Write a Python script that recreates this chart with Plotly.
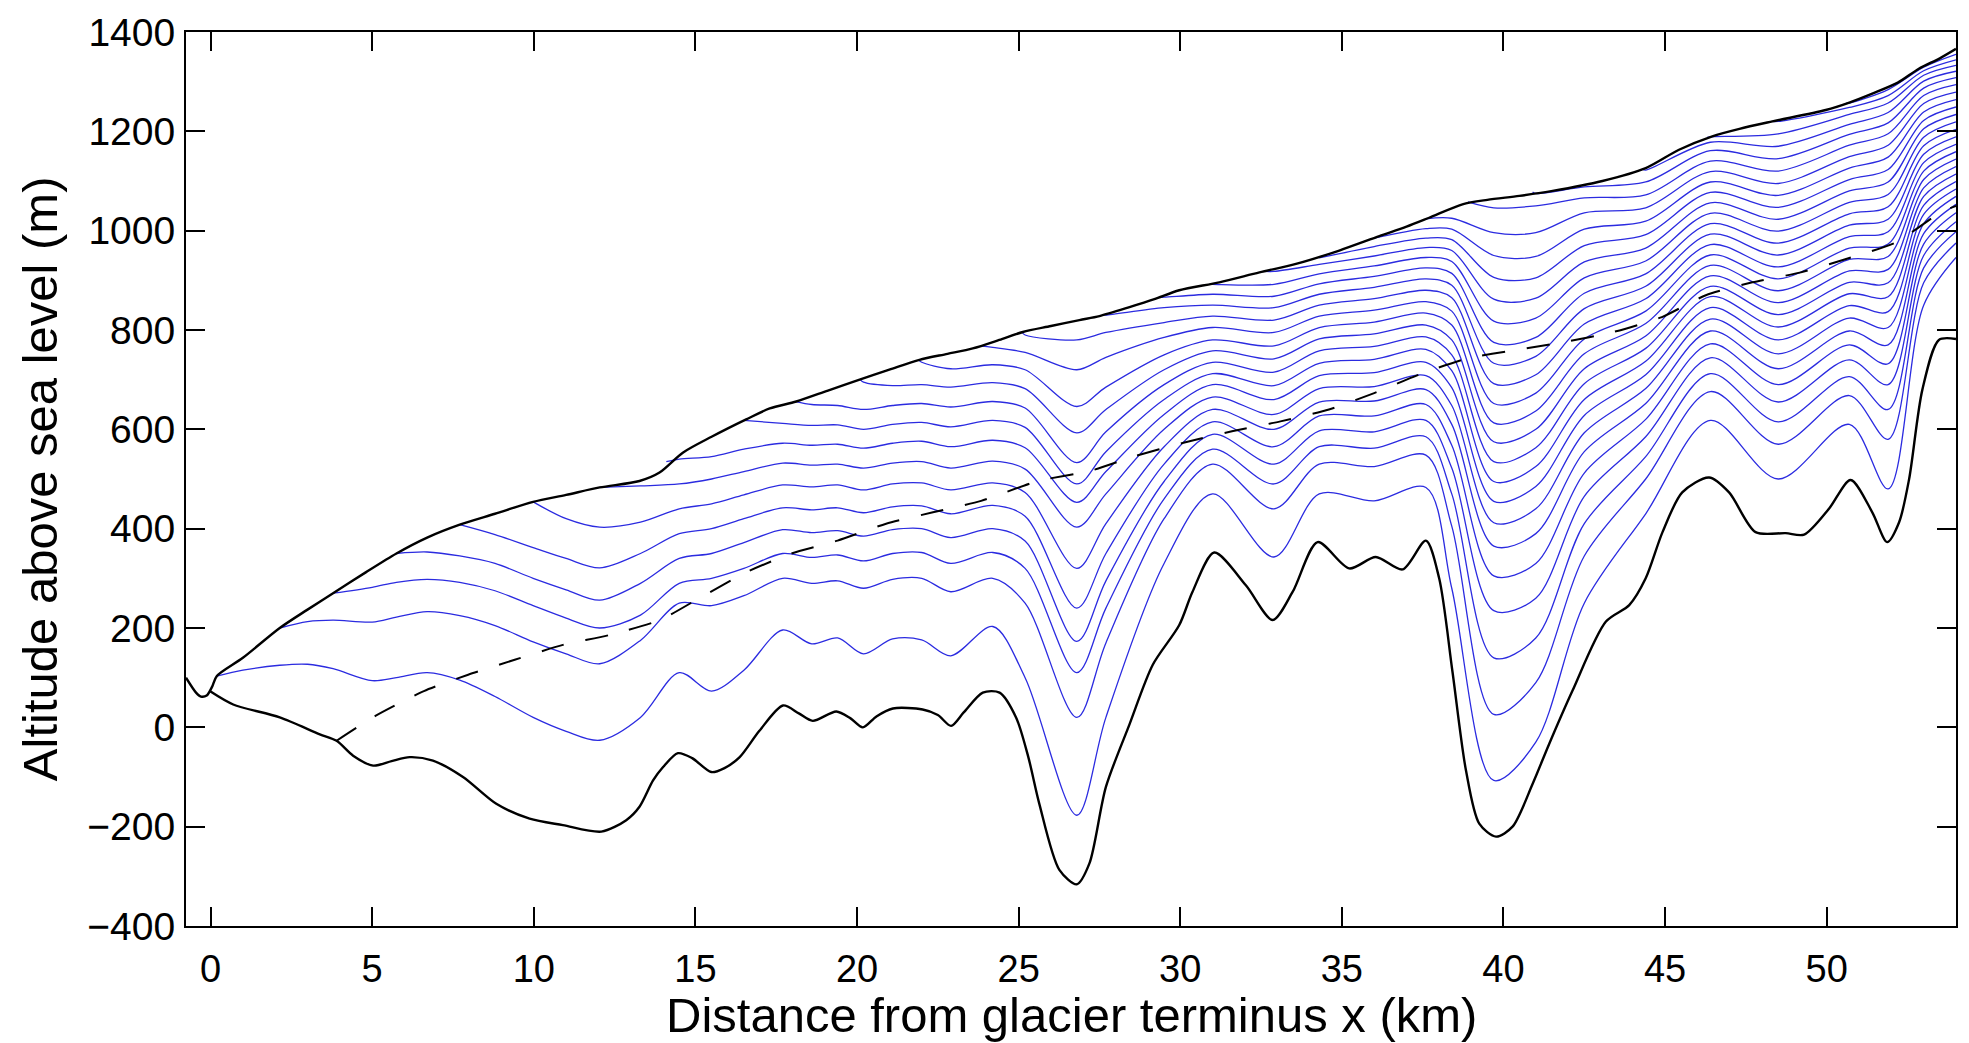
import plotly.graph_objects as go

# ---------------- data ----------------
SURF_X = [-0.76, -0.45, -0.3, -0.12, 0.05, 0.19, 1.0, 2.14, 3.0, 3.79, 4.8, 5.75, 6.7, 7.71, 8.8, 9.98, 11.0,
          12.04, 13.27, 13.89, 14.61, 15.5, 16.57, 17.3, 18.12, 19.1, 20.08, 21.0, 21.93, 22.8, 23.58, 24.4,
          25.13, 26.0, 26.88, 27.5, 28.43, 29.2, 29.97, 31.21, 32.45, 33.58, 34.92, 36.16, 37.0, 37.7, 38.73,
          39.5, 40.49, 41.52, 43.06, 44.4, 45.43, 46.46, 47.3, 48.32, 49.97, 50.7, 51.41, 52.2, 52.85, 53.5, 54.0]
SURF_Y = [100, 70, 62, 64, 82, 103, 140, 200, 237, 270, 312, 350, 382, 408, 430, 454, 468,
          483, 496, 513, 553, 585, 620, 642, 656, 678, 700, 720, 740, 752, 763, 780,
          796, 808, 820, 828, 846, 862, 880, 896, 916, 933, 960, 989, 1008, 1026, 1053,
          1062, 1070, 1080, 1100, 1126, 1163, 1190, 1205, 1220, 1243, 1258, 1276, 1298, 1326, 1347, 1366]

BED_X = [0.0, 0.7, 2.14, 3.38, 3.9, 4.41, 5.03, 5.6, 6.16, 6.88, 7.81, 8.84, 9.87, 10.9, 12.09, 12.86, 13.27,
         13.69, 14.0, 14.46, 14.9, 15.49, 15.9, 16.37, 16.98, 17.71, 18.2, 18.63, 19.36, 19.8, 20.18, 20.6,
         21.11, 22.03, 22.5, 22.91, 23.3, 23.89, 24.41, 24.92, 25.3, 25.64, 26.26, 26.8, 27.19, 27.7, 28.43,
         29.15, 29.97, 30.38, 31.05, 32.03, 32.86, 33.48, 34.25, 35.23, 36.05, 36.88, 37.6, 38.01, 38.42,
         38.84, 39.25, 39.77, 40.28, 40.9, 41.41, 42.13, 43.17, 43.89, 44.4, 44.92, 45.53, 46.36, 46.98,
         47.8, 48.73, 49.3, 50.07, 50.74, 51.41, 51.87, 52.24, 52.55, 52.96, 53.47, 54.0]
BED_Y = [72, 46, 20, -14, -27, -57, -77, -68, -60, -67, -100, -154, -184, -197, -210, -187, -160,
         -107, -80, -52, -62, -90, -82, -60, -7, 44, 28, 13, 32, 18, 0, 22,
         38, 36, 25, 3, 30, 70, 70, 20, -60, -154, -287, -316, -274, -120, 6,
         126, 206, 273, 352, 286, 216, 273, 373, 320, 343, 318, 376, 300, 113,
         -87, -194, -220, -200, -114, -34, 73, 213, 246, 300, 393, 473, 503, 473,
         393, 391, 388, 440, 498, 433, 373, 413, 500, 680, 780, 782]

DASH_X = [3.9, 5.1, 6.6, 7.97, 9.41, 10.9, 12.35, 13.9, 15.2, 16.6, 17.97, 19.4, 20.9, 22.35, 23.84, 25.6,
          27.2, 28.6, 30.1, 31.6, 33.1, 34.6, 36.0, 37.5, 38.9, 40.4, 41.9, 43.4, 44.9, 46.26, 47.7, 49.2,
          50.6, 52.13, 53.5, 54.0]
DASH_Y = [-27, 23, 73, 106, 136, 166, 186, 216, 263, 313, 350, 376, 410, 433, 456, 496,
          516, 546, 573, 596, 616, 640, 673, 713, 743, 760, 776, 796, 826, 870, 896, 916,
          943, 976, 1036, 1050]

# internal layers: the point where each leaves the surface
LAYER_START_X = [0.19, 2.14, 3.79, 5.75, 7.71, 9.98, 12.04, 14.1, 16.5, 18.1, 20.1, 21.9, 23.8, 25.1,
                 27.6, 29.4, 30.9, 32.6, 34.3, 36.0, 37.6, 38.9, 40.9, 44.3, 46.3, 48.3, 50.6]
LAYER_START_Y = [103, 200, 270, 350, 408, 454, 483, 535, 618, 656, 700, 740, 768, 796,
                 830, 866, 892, 918, 945, 985, 1024, 1058, 1078, 1124, 1188, 1220, 1257]

# layer altitudes read at columns (bottom layer first)
COL_X = [1.0, 2.14, 3.0, 3.79, 5.0, 5.75, 6.7, 7.71, 8.8, 9.98, 11.0, 12.04, 13.3, 14.5, 15.5, 16.5, 17.7,
         18.6, 19.4, 20.2, 21.1, 22.0, 22.9, 24.2, 25.2, 26.8, 27.7, 29.5, 31.0, 32.9, 34.3, 36.0, 37.6,
         38.4, 39.7, 41.0, 42.5, 44.4, 46.4, 48.5, 50.7, 51.9, 53.0, 54.0]
COL_Y = [
    [115],
    [125, 200],
    [127, 213],
    [118, 216, 270],
    [94, 212, 282],
    [100, 222, 292, 350],
    [110, 233, 298, 353],
    [95, 225, 292, 345, 408],
    [62, 205, 275, 330, 388],
    [20, 172, 245, 300, 362, 454],
    [-8, 148, 220, 277, 340, 420],
    [-26, 128, 200, 256, 321, 403, 483],
    [20, 175, 226, 290, 350, 413, 486],
    [110, 250, 290, 340, 390, 440, 490, 540],
    [73, 245, 300, 350, 400, 450, 500, 545],
    [115, 265, 320, 372, 420, 468, 515, 560, 612],
    [196, 300, 350, 398, 442, 488, 532, 572, 612],
    [168, 290, 342, 392, 438, 484, 528, 568, 608, 650],
    [180, 295, 347, 396, 442, 488, 530, 570, 609, 648],
    [148, 280, 335, 385, 432, 478, 522, 562, 600, 640, 695],
    [178, 298, 350, 398, 444, 490, 532, 572, 610, 648, 688],
    [176, 300, 352, 400, 446, 492, 535, 576, 614, 652, 690, 735],
    [144, 273, 330, 382, 430, 478, 522, 565, 605, 645, 685, 722],
    [203, 300, 352, 400, 447, 492, 536, 578, 618, 656, 694, 730, 765],
    [100, 250, 320, 375, 425, 473, 520, 563, 604, 643, 682, 720, 755, 790],
    [-177, 20, 110, 173, 240, 320, 403, 453, 490, 533, 593, 646, 720, 780],
    [20, 170, 240, 295, 350, 410, 470, 515, 555, 595, 640, 685, 745, 795, 830],
    [330, 420, 460, 495, 530, 565, 600, 630, 660, 690, 720, 750, 785, 815, 845, 866],
    [470, 530, 560, 590, 615, 640, 665, 690, 712, 735, 758, 780, 805, 828, 850, 872, 892],
    [343, 440, 490, 530, 565, 600, 630, 660, 688, 715, 742, 768, 795, 820, 845, 868, 892, 918],
    [470, 530, 565, 597, 627, 655, 682, 708, 733, 758, 782, 805, 828, 850, 872, 893, 913, 932, 945],
    [456, 525, 562, 595, 627, 657, 686, 714, 741, 767, 792, 816, 840, 863, 886, 908, 929, 949, 968, 984],
    [483, 548, 585, 618, 650, 680, 708, 735, 761, 786, 810, 834, 857, 880, 903, 925, 946, 966, 985, 1004, 1022],
    [280, 405, 470, 522, 568, 610, 648, 684, 718, 750, 780, 810, 838, 865, 890, 914, 938, 960, 982, 1003, 1025],
    [-107, 26, 140, 235, 305, 365, 412, 455, 495, 535, 575, 613, 652, 692, 733, 775, 818, 862, 906, 950, 996, 1046],
    [-30, 90, 180, 260, 330, 390, 440, 485, 525, 563, 600, 637, 673, 710, 747, 785, 824, 864, 905, 948, 996, 1050, 1075],
    [250, 345, 410, 465, 512, 555, 593, 628, 660, 692, 722, 752, 782, 812, 843, 874, 905, 937, 970, 1003, 1036, 1066, 1088],
    [430, 500, 545, 585, 620, 652, 682, 710, 737, 763, 788, 813, 838, 863, 888, 913, 939, 965, 992, 1019, 1046, 1072, 1098, 1122],
    [618, 676, 712, 744, 772, 798, 822, 845, 867, 888, 909, 930, 951, 972, 993, 1014, 1035, 1056, 1077, 1098, 1119, 1140, 1161, 1178, 1189],
    [500, 570, 615, 655, 690, 722, 752, 780, 806, 831, 855, 879, 903, 927, 951, 975, 999, 1023, 1047, 1071, 1095, 1120, 1145, 1170, 1195, 1220],
    [610, 668, 706, 740, 770, 798, 824, 849, 873, 896, 919, 942, 965, 988, 1011, 1034, 1057, 1080, 1103, 1126, 1149, 1172, 1194, 1214, 1234, 1248, 1257],
    [480, 580, 640, 690, 732, 770, 805, 837, 867, 895, 922, 948, 973, 998, 1023, 1048, 1073, 1098, 1123, 1148, 1172, 1195, 1217, 1238, 1257, 1272, 1284],
    [850, 895, 925, 950, 973, 994, 1014, 1033, 1051, 1069, 1086, 1103, 1120, 1137, 1154, 1171, 1188, 1205, 1222, 1239, 1256, 1272, 1287, 1301, 1313, 1322, 1329],
    [946, 975, 998, 1018, 1036, 1053, 1069, 1084, 1099, 1114, 1129, 1144, 1159, 1174, 1189, 1204, 1219, 1234, 1249, 1264, 1279, 1294, 1308, 1321, 1333, 1344, 1355],
]

X_TICKS = [0, 5, 10, 15, 20, 25, 30, 35, 40, 45, 50]
Y_TICKS = [-400, -200, 0, 200, 400, 600, 800, 1000, 1200, 1400]
X_TITLE = "Distance from glacier terminus x (km)"
Y_TITLE = "Altitude above sea level (m)"

FONT = "Arial, 'Liberation Sans', Helvetica, sans-serif"

fig = go.Figure()

# blue layers
for i, (sx, sy) in enumerate(zip(LAYER_START_X, LAYER_START_Y)):
    xs, ys = [sx], [sy]
    for cx, col in zip(COL_X, COL_Y):
        if cx > sx and len(col) > i:
            xs.append(cx)
            ys.append(col[i])
    fig.add_trace(go.Scatter(x=xs, y=ys, mode="lines",
                             line=dict(color="#2b2be0", width=1.3, shape="spline", smoothing=0.9),
                             hoverinfo="skip", showlegend=False))

fig.add_trace(go.Scatter(x=DASH_X, y=DASH_Y, mode="lines",
                         line=dict(color="black", width=2, dash="23px,22px", shape="spline", smoothing=0.6),
                         hoverinfo="skip", showlegend=False))
fig.add_trace(go.Scatter(x=BED_X, y=BED_Y, mode="lines",
                         line=dict(color="black", width=2.4, shape="spline", smoothing=0.8),
                         hoverinfo="skip", showlegend=False))
fig.add_trace(go.Scatter(x=SURF_X, y=SURF_Y, mode="lines",
                         line=dict(color="black", width=2.4, shape="spline", smoothing=0.8),
                         hoverinfo="skip", showlegend=False))

axis_common = dict(ticks="inside", ticklen=19, tickwidth=2, tickcolor="black",
                   showline=True, linewidth=2, linecolor="black", mirror="ticks",
                   showgrid=False, zeroline=False)

fig.update_xaxes(range=[-0.76, 54.0], tickvals=X_TICKS, ticklabelstandoff=8,
                 tickfont=dict(family=FONT, size=38, color="black"), **axis_common)
fig.update_yaxes(range=[-400, 1400], tickvals=Y_TICKS, ticklabelstandoff=1,
                 tickfont=dict(family=FONT, size=39, color="black"), **axis_common)

fig.update_layout(
    width=1969, height=1043,
    margin=dict(l=186, r=11, t=25, b=117),
    plot_bgcolor="white", paper_bgcolor="white",
    showlegend=False,
    annotations=[
        dict(text=X_TITLE, xref="paper", yref="paper", x=0.5, y=-0.099, xanchor="center", yanchor="middle",
             showarrow=False, font=dict(family=FONT, size=49, color="black")),
        dict(text=Y_TITLE, xref="paper", yref="paper", x=-0.0824, y=0.5, xanchor="center", yanchor="middle",
             textangle=-90, showarrow=False, font=dict(family=FONT, size=49, color="black")),
    ],
)

fig.write_html("out.html")
